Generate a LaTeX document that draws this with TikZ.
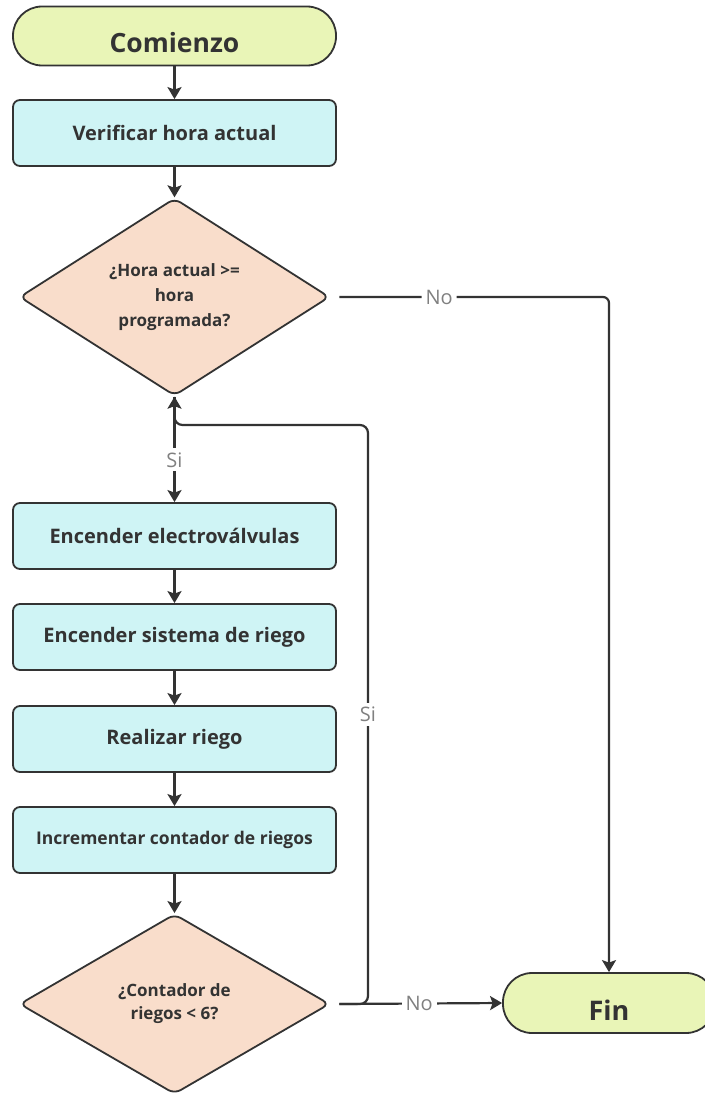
\documentclass[tikz,border=0pt]{standalone}
\usepackage{fontspec}
\setmainfont{Open Sans}
\usetikzlibrary{shapes.geometric, arrows.meta, positioning}
\definecolor{termfill}{HTML}{E9F5B7}
\definecolor{procfill}{HTML}{CFF4F5}
\definecolor{decfill}{HTML}{F9DDCB}
\definecolor{inkgray}{HTML}{333333}
\definecolor{labelgray}{HTML}{808080}

\begin{document}
\begin{tikzpicture}[x=1pt, y=-1pt,
  terminal/.style={draw=inkgray, line width=1.8pt, fill=termfill, rounded corners=29pt, minimum width=323pt, minimum height=59pt, text height=34pt, text depth=0pt, text=inkgray, font=\bfseries\fontsize{26.5}{30}\selectfont},
  proceso/.style={draw=inkgray, line width=1.8pt, fill=procfill, rounded corners=7pt, minimum width=323pt, minimum height=66pt, text=inkgray, font=\bfseries\fontsize{20}{24}\selectfont},
  decision/.style={diamond, draw=inkgray, line width=1.8pt, fill=decfill, rounded corners=7pt, minimum width=310pt, minimum height=180pt, inner sep=0pt, align=center, text=inkgray, font=\bfseries\fontsize{17}{25}\selectfont},
  flow/.style={draw=inkgray, line width=2.2pt, -{Stealth[length=12pt, width=14pt, inset=2.5pt]}},
  lbl/.style={fill=white, inner sep=4pt, text=labelgray, font=\fontsize{20}{23}\selectfont}]
  \useasboundingbox (0,0) rectangle (704,1097);

  % Main column
  \node[terminal] (start) at (174.5, 36) {Comienzo};
  \node[proceso] (verif) at (174.5, 133) {Verificar hora actual};
  \node[decision] (hora) at (174.5, 297) {¿Hora actual >=\\hora\\programada?};
  \node[proceso] (valv) at (174.5, 536) {Encender electroválvulas};
  \node[proceso] (sist) at (174.5, 637) {Encender sistema de riego};
  \node[proceso] (riego) at (174.5, 739) {Realizar riego};
  \node[proceso, font=\bfseries\fontsize{17.5}{21}\selectfont] (incr) at (174.5, 840) {Incrementar contador de riegos};
  \node[decision, font=\bfseries\fontsize{17}{23}\selectfont] (cont) at (174.5, 1004) {¿Contador de\\riegos < 6?};

  % End
  \node[terminal, minimum width=212pt, minimum height=60pt, font=\bfseries\fontsize{27}{30}\selectfont] (fin) at (609, 1003) {Fin};

  % Loop column
  \coordinate (loopx) at (368, 425);

  \draw[flow] (start) -- (verif);
  \draw[flow] (verif) -- (hora);
  \draw[flow] (hora.south) -- node[lbl, pos=0.6] {Si} (valv);
  \draw[flow] (valv) -- (sist);
  \draw[flow] (sist) -- (riego);
  \draw[flow] (riego) -- (incr);
  \draw[flow] (incr) -- (cont);

  % No branches
  \draw[flow, rounded corners=6pt] ([xshift=9pt]hora.east) -- node[lbl, pos=0.37] {No} (hora.east -| fin.north) -- (fin.north);
  \draw[flow] ([xshift=9pt]cont.east) -- node[lbl, pos=0.49] {No} (fin.west);

  % Back to the first check
  \draw[flow, rounded corners=8pt] ([xshift=9pt]cont.east) -- (cont.east -| loopx) -- node[lbl] {Si} (loopx) -- (hora.south |- loopx) -- (hora.south);
\end{tikzpicture}
\end{document}
